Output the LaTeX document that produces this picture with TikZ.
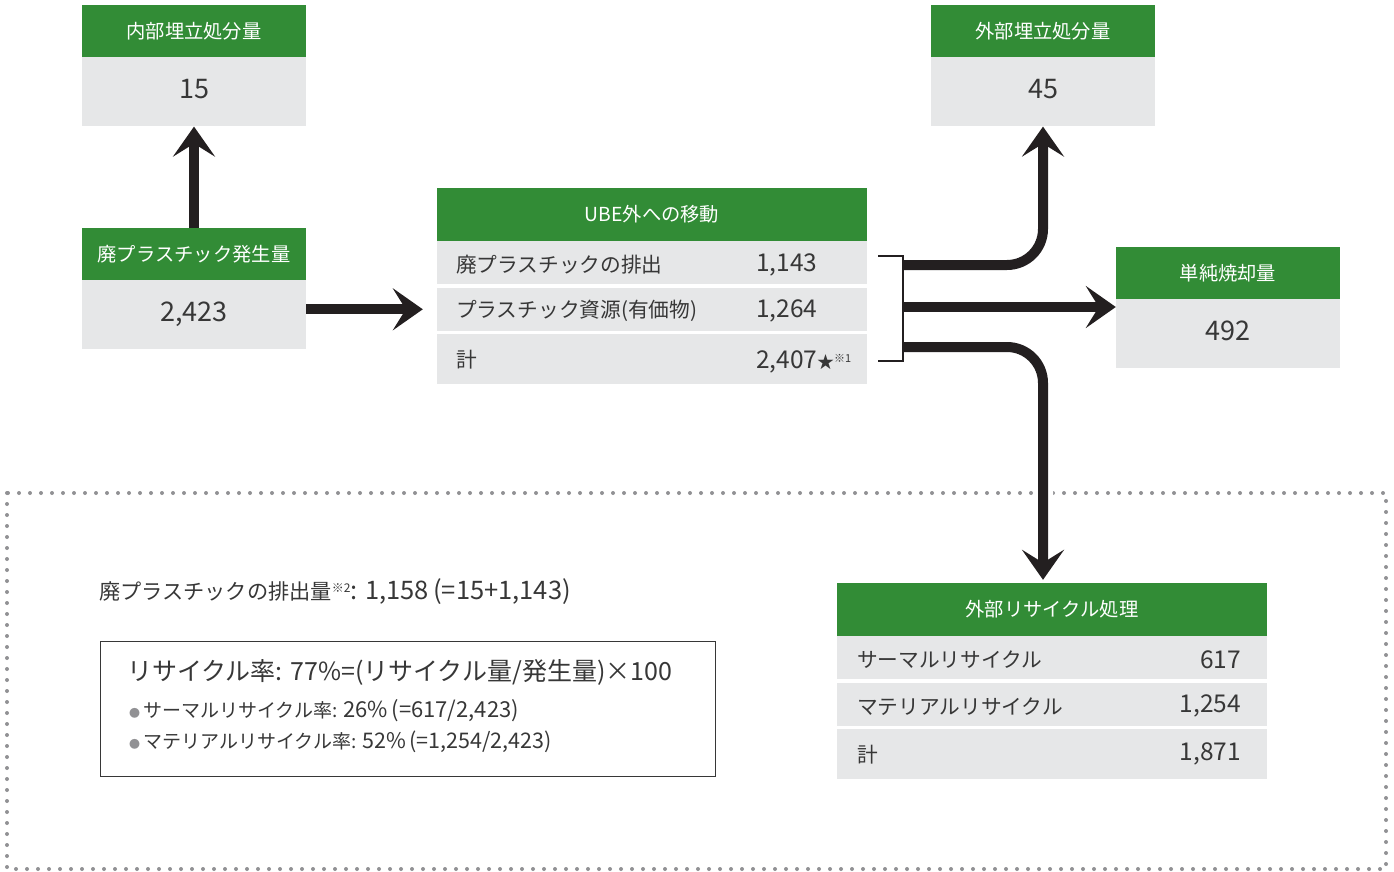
\documentclass[tikz,border=0pt]{standalone}
\usepackage{fontspec}
\setmainfont{Noto Sans CJK JP}
\usetikzlibrary{arrows.meta}

\definecolor{headgreen}{RGB}{50,140,54}
\definecolor{cellgray}{RGB}{230,231,232}
\definecolor{inkdark}{RGB}{35,31,32}
\definecolor{textgray}{RGB}{55,55,55}
\definecolor{dotgray}{RGB}{145,145,148}

\newcommand\headsize{\fontsize{19.3}{19.3}\selectfont}
\newcommand\valsize{\fontsize{27}{27}\selectfont}
\newcommand\rowsize{\fontsize{20.7}{20.7}\selectfont}
\newcommand\numsize{\fontsize{24.5}{24.5}\selectfont}

\begin{document}
\begin{tikzpicture}[%
      x=1pt, y=-1pt,
      head/.style={fill=headgreen, text=white, inner sep=0pt, font=\headsize},
      cell/.style={fill=cellgray, inner sep=0pt},
      smallhead/.style={head, minimum width=224pt, minimum height=52pt},
      smallval/.style={cell, minimum width=224pt, minimum height=69pt, anchor=north,
            text=textgray, font=\valsize, text height=19.7pt, text depth=6pt},
      widehead/.style={head, minimum width=430pt, minimum height=53pt},
      rowcell/.style={cell, minimum width=430pt, minimum height=43pt, anchor=north},
      rowtxt/.style={inner sep=0pt, text=textgray, font=\rowsize, anchor=west},
      rownum/.style={inner sep=0pt, text=textgray, font=\numsize},
      flow/.style={draw=inkdark, line width=10pt, -{Stealth[length=30pt, width=42pt, inset=13pt]}},
      ]
      \useasboundingbox (0,0) rectangle (1394,872);

      % dotted frame
      \draw [dotgray, line width=4pt, line cap=round, dash pattern=on 0pt off 11pt] (7,493) rectangle (1386,869);

      % single value boxes
      \node [smallhead] (landin) at (194,31) {内部埋立処分量};
      \node [smallval] (landinv) at (landin.south) {15};
      \node [smallhead] (waste) at (194,254) {廃プラスチック発生量};
      \node [smallval] (wastev) at (waste.south) {2,423};
      \node [smallhead] (landout) at (1043,31) {外部埋立処分量};
      \node [smallval] (landoutv) at (landout.south) {45};
      \node [smallhead] (burn) at (1228,273) {単純焼却量};
      \node [smallval] (burnv) at (burn.south) {492};

      % table: UBE外への移動
      \node [widehead] (move) at (652,214.5) {UBE外への移動};
      \node [rowcell] (move1) at (move.south) {};
      \node [rowcell] (move2) at ([yshift=-3pt]move1.south) {};
      \node [rowcell, minimum height=50pt] (move3) at ([yshift=-3pt]move2.south) {};
      \node [rowtxt] at ([xshift=19pt,yshift=-2pt]move1.west) {廃プラスチックの排出};
      \node [rowtxt] at ([xshift=19pt,yshift=-2pt]move2.west) {プラスチック資源(有価物)};
      \node [rowtxt] at ([xshift=19pt]move3.west) {計};
      \node [rownum, anchor=west] at ([xshift=319pt,yshift=-2pt]move1.west) {1,143};
      \node [rownum, anchor=west] at ([xshift=319pt,yshift=-2pt]move2.west) {1,264};
      \node [rownum, anchor=base west] at ([xshift=319pt,yshift=-9pt]move3.west)
            {2,407{\fontsize{17}{17}\selectfont ★}\raisebox{6pt}{\fontsize{11}{11}\selectfont ※1}};

      % table: 外部リサイクル処理
      \node [widehead] (recycle) at (1052,609.5) {外部リサイクル処理};
      \node [rowcell] (rec1) at (recycle.south) {};
      \node [rowcell] (rec2) at ([yshift=-3pt]rec1.south) {};
      \node [rowcell, minimum height=50pt] (rec3) at ([yshift=-3pt]rec2.south) {};
      \node [rowtxt] at ([xshift=20pt,yshift=-2pt]rec1.west) {サーマルリサイクル};
      \node [rowtxt] at ([xshift=20pt,yshift=-2pt]rec2.west) {マテリアルリサイクル};
      \node [rowtxt] at ([xshift=20pt]rec3.west) {計};
      \node [rownum, anchor=east] at ([xshift=-26pt,yshift=-2pt]rec1.east) {617};
      \node [rownum, anchor=east] at ([xshift=-26pt,yshift=-2pt]rec2.east) {1,254};
      \node [rownum, anchor=east] at ([xshift=-26pt]rec3.east) {1,871};

      % bracket and branch points
      \coordinate (brtop) at (878,256);
      \coordinate (brbot) at (878,361);
      \coordinate (out1) at (903,265);
      \coordinate (out2) at (903,307);
      \coordinate (out3) at (903,347);

      % flows
      \draw [flow] (waste.north) -- (landinv.south);
      \draw [flow] (wastev.east |- move2) -- ([xshift=-14pt]move2.west);
      \draw [flow, rounded corners=36pt] (out1) -| (landoutv.south);
      \draw [flow] (out2) -- (out2 -| burn.west);
      \draw [white, line width=20pt, rounded corners=36pt] (out3) -| ([yshift=3pt]landoutv.south |- recycle.north);
      \draw [flow, rounded corners=36pt] (out3) -| ([yshift=3pt]landoutv.south |- recycle.north);
      \draw [inkdark, line width=2pt] (brtop) -| (903,361) -- (brbot);

      % totals and rates
      \node [inner sep=0pt, text=textgray, font=\fontsize{21.2}{21.2}\selectfont, anchor=west] (note) at (99,592)
            {廃プラスチックの排出量\raisebox{7pt}{\fontsize{12}{12}\selectfont ※2}{\fontsize{25.5}{25.5}\selectfont : 1,158\,(=15+1,143)}};
      \node [draw=textgray, line width=1pt, inner sep=0pt, minimum width=615pt, minimum height=135pt] (rate) at (407.5,708.5) {};
      \node [inner sep=0pt, text=textgray, font=\fontsize{25}{25}\selectfont, anchor=west] (ratehead) at (127,672)
            {リサイクル率: 77\%=(リサイクル量/発生量)×100};
      \node [inner sep=0pt, text=textgray, font=\fontsize{19}{19}\selectfont, anchor=west] (thermal) at (129,711)
            {{\fontsize{11}{11}\selectfont\textcolor{dotgray}{●}}\,サーマルリサイクル率: {\fontsize{22}{22}\selectfont 26\%\,(=617/2,423)}};
      \node [inner sep=0pt, text=textgray, font=\fontsize{19}{19}\selectfont, anchor=west] (material) at (129,742)
            {{\fontsize{11}{11}\selectfont\textcolor{dotgray}{●}}\,マテリアルリサイクル率: {\fontsize{21.5}{21.5}\selectfont 52\%\,(=1,254/2,423)}};
      \end{tikzpicture}
\end{document}
